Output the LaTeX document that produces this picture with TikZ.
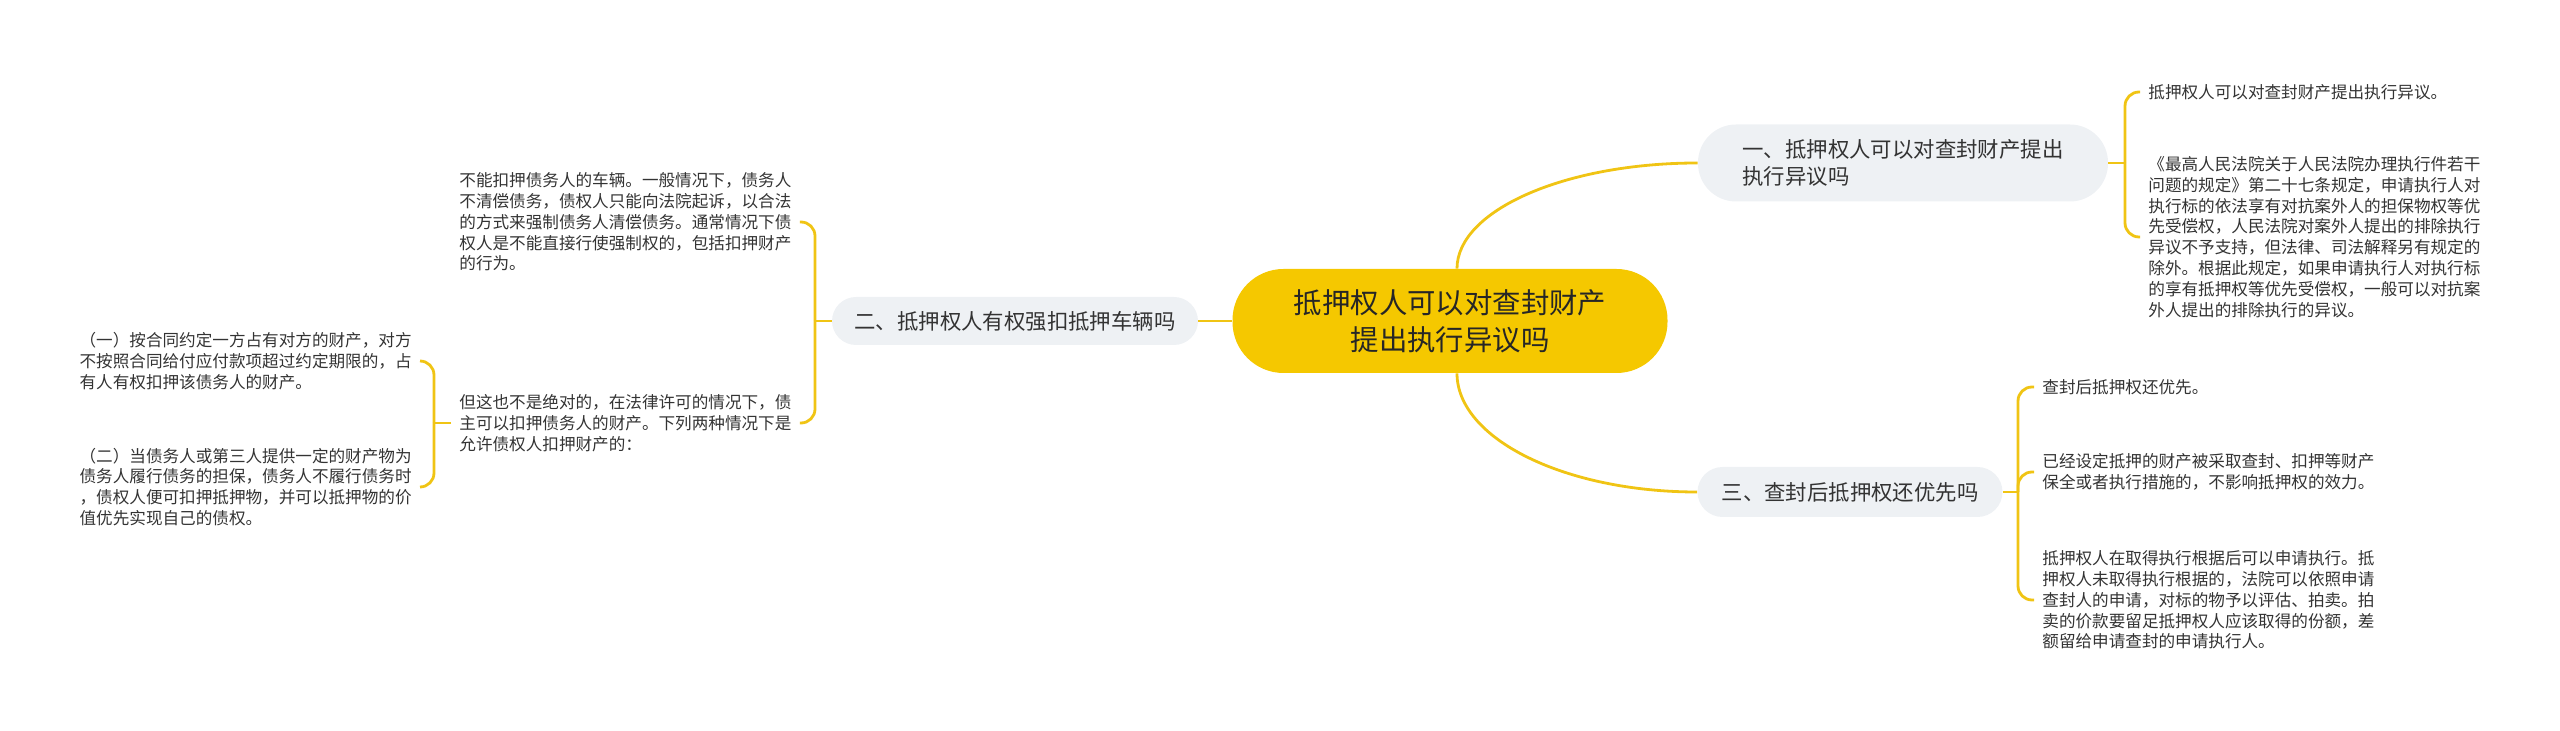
\documentclass[tikz,border=0pt]{standalone}
\usepackage{fontspec}
\setmainfont{Noto Sans CJK SC}

\definecolor{rootyellow}{RGB}{245,200,0}
\definecolor{linkyellow}{RGB}{240,196,20}
\definecolor{topicgray}{RGB}{238,241,244}
\definecolor{textgray}{RGB}{51,51,51}

\begin{document}
\begin{tikzpicture}[x=0.5pt, y=-0.5pt,
    link/.style={linkyellow, line width=1.4pt},
    curl/.style={link, rounded corners=7pt},
    rootbox/.style={fill=rootyellow, rounded corners=25.5pt, minimum width=217.5pt, minimum height=52pt,
        align=center, text=black!85, font=\fontsize{14.2pt}{18.5pt}\selectfont},
    topic/.style={fill=topicgray, align=left, text=textgray, font=\fontsize{10.7pt}{13.5pt}\selectfont},
    leaf/.style={align=left, inner xsep=4pt, inner ysep=0pt, text=textgray,
        font=\fontsize{8.3pt}{10.4pt}\selectfont}]
    \useasboundingbox (0,0) rectangle (2560,731);

    % main topic and its three branches
    \node[rootbox] (root) at (1450,321) {抵押权人可以对查封财产\\提出执行异议吗};
    \node[topic, rounded corners=19pt, minimum width=205pt, minimum height=38.5pt] (b1) at (1903,163)
        {一、抵押权人可以对查封财产提出\\执行异议吗};
    \node[topic, rounded corners=12pt, minimum width=183pt, minimum height=24pt] (b2) at (1015,321)
        {二、抵押权人有权强扣抵押车辆吗};
    \node[topic, rounded corners=12.5pt, minimum width=152.5pt, minimum height=25pt] (b3) at (1850,492)
        {三、查封后抵押权还优先吗};

    % leaves on the right
    \node[leaf, anchor=west] (l11) at (2140,92) {抵押权人可以对查封财产提出执行异议。};
    \node[leaf, anchor=west] (l12) at (2140,237)
        {《最高人民法院关于人民法院办理执行件若干\\问题的规定》第二十七条规定，申请执行人对\\执行标的依法享有对抗案外人的担保物权等优\\先受偿权，人民法院对案外人提出的排除执行\\异议不予支持，但法律、司法解释另有规定的\\除外。根据此规定，如果申请执行人对执行标\\的享有抵押权等优先受偿权，一般可以对抗案\\外人提出的排除执行的异议。};
    \node[leaf, anchor=west] (l31) at (2034,387) {查封后抵押权还优先。};
    \node[leaf, anchor=west] (l32) at (2034,472)
        {已经设定抵押的财产被采取查封、扣押等财产\\保全或者执行措施的，不影响抵押权的效力。};
    \node[leaf, anchor=west] (l33) at (2034,600)
        {抵押权人在取得执行根据后可以申请执行。抵\\押权人未取得执行根据的，法院可以依照申请\\查封人的申请，对标的物予以评估、拍卖。拍\\卖的价款要留足抵押权人应该取得的份额，差\\额留给申请查封的申请执行人。};

    % leaves on the left
    \node[leaf, anchor=west] (l21) at (451,222)
        {不能扣押债务人的车辆。一般情况下，债务人\\不清偿债务，债权人只能向法院起诉，以合法\\的方式来强制债务人清偿债务。通常情况下债\\权人是不能直接行使强制权的，包括扣押财产\\的行为。};
    \node[leaf, anchor=west] (l22) at (451,423)
        {但这也不是绝对的，在法律许可的情况下，债\\主可以扣押债务人的财产。下列两种情况下是\\允许债权人扣押财产的：};
    \node[leaf, anchor=east] (l221) at (420,361)
        {（一）按合同约定一方占有对方的财产，对方\\不按照合同给付应付款项超过约定期限的，占\\有人有权扣押该债务人的财产。};
    \node[leaf, anchor=east] (l222) at (420,487)
        {（二）当债务人或第三人提供一定的财产物为\\债务人履行债务的担保，债务人不履行债务时\\，债权人便可扣押抵押物，并可以抵押物的价\\值优先实现自己的债权。};

    % connectors
    \draw[link] ([xshift=3.5pt]root.north) .. controls +(0,-58) and +(-133,0) .. (b1.west);
    \draw[link] ([xshift=3.5pt]root.south) .. controls +(0,65) and +(-133,0) .. (b3.west);
    \draw[link] (root.west) -- (b2.east);

    \draw[link] (b1.east) -- (2125,163) coordinate (j1);
    \draw[curl] (j1) |- (l11.west);
    \draw[curl] (j1) |- (l12.west);

    \draw[link] (b3.east) -- (2018,492) coordinate (j3);
    \draw[curl] (j3) |- (l31.west);
    \draw[curl] (j3) |- (l32.west);
    \draw[curl] (j3) |- (l33.west);

    \draw[link] (b2.west) -- (815,321) coordinate (j2);
    \draw[curl] (j2) |- (l21.east);
    \draw[curl] (j2) |- (l22.east);

    \draw[link] (l22.west) -- (434,423) coordinate (j22);
    \draw[curl] (j22) |- (l221.east);
    \draw[curl] (j22) |- (l222.east);
\end{tikzpicture}
\end{document}
